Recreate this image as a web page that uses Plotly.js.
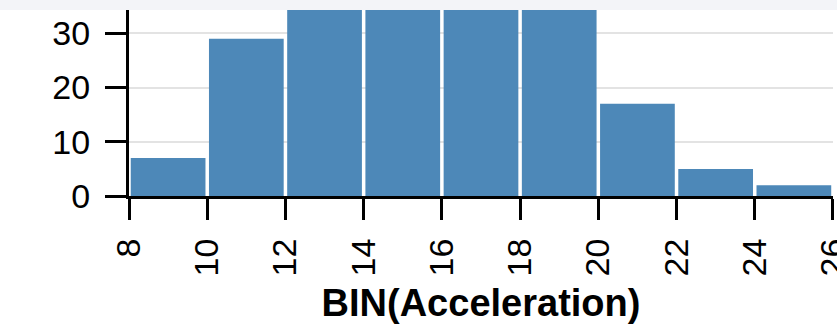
<!DOCTYPE html>
<html>
<head>
<meta charset="utf-8">
<script src="https://cdn.plot.ly/plotly-3.0.1.min.js"></script>
<style>html,body{margin:0;padding:0;background:#fff;}#chart{width:837px;height:324px;}</style>
</head>
<body>
<div id="chart"></div>
<script>
// Bin starts (Acceleration), bin width 2
const binStarts = [8, 10, 12, 14, 16, 18, 20, 22, 24];
// Counts per bin (bins 12-20 are clipped above the visible range; estimated)
const counts = [7, 29, 74, 119, 99, 52, 17, 5, 2];
const xTickVals = [8, 10, 12, 14, 16, 18, 20, 22, 24, 26];
const yTickVals = [0, 10, 20, 30];
const binWidth = 2;

const W = 837, H = 324;
const M = {l: 129, r: 4, t: 10, b: 128};
const plotW = W - M.l - M.r, plotH = H - M.t - M.b;
const gapUnits = 3.5 / plotW * 18;

const trace = {
  type: 'bar',
  x: binStarts,
  y: counts,
  width: binWidth - gapUnits,
  offset: gapUnits / 2,
  marker: {color: '#4d88b8', line: {width: 0}},
  hoverinfo: 'x+y'
};

const font = 'Liberation Sans, Arial, Helvetica, sans-serif';
const layout = {
  width: W, height: H,
  margin: M,
  paper_bgcolor: '#ffffff',
  plot_bgcolor: '#ffffff',
  showlegend: false,
  font: {family: font, color: '#000'},
  xaxis: {
    range: [8, 26.0005],
    tickvals: xTickVals,
    ticktext: xTickVals.map(String),
    tickangle: -90,
    ticks: 'outside', ticklen: 21, tickwidth: 3, tickcolor: '#000',
    ticklabelstandoff: 5,
    ticklabeloverflow: 'allow',
    showline: true, linewidth: 3, linecolor: '#000',
    showgrid: false, zeroline: false,
    tickfont: {size: 34, family: font, color: '#000'},
    title: {text: 'BIN(Acceleration)', font: {size: 38, family: font, color: '#000', weight: 'bold'}, standoff: 18},
    automargin: false, fixedrange: true
  },
  yaxis: {
    range: [0, 34.3],
    tickvals: yTickVals,
    ticks: 'outside', ticklen: 21, tickwidth: 3, tickcolor: '#000',
    ticklabelstandoff: 8,
    showline: true, linewidth: 3, linecolor: '#000',
    showgrid: true, gridcolor: '#e3e3e3', gridwidth: 2,
    zeroline: false,
    tickfont: {size: 34, family: font, color: '#000'},
    automargin: false, fixedrange: true
  },
  shapes: [{
    type: 'rect', xref: 'paper', yref: 'paper', layer: 'above',
    x0: -M.l / plotW, x1: 1 + M.r / plotW,
    y0: 1, y1: 1 + M.t / plotH,
    fillcolor: '#f3f4f8', line: {width: 0}
  }]
};

Plotly.newPlot('chart', [trace], layout, {displayModeBar: false, staticPlot: true});
</script>
</body>
</html>
